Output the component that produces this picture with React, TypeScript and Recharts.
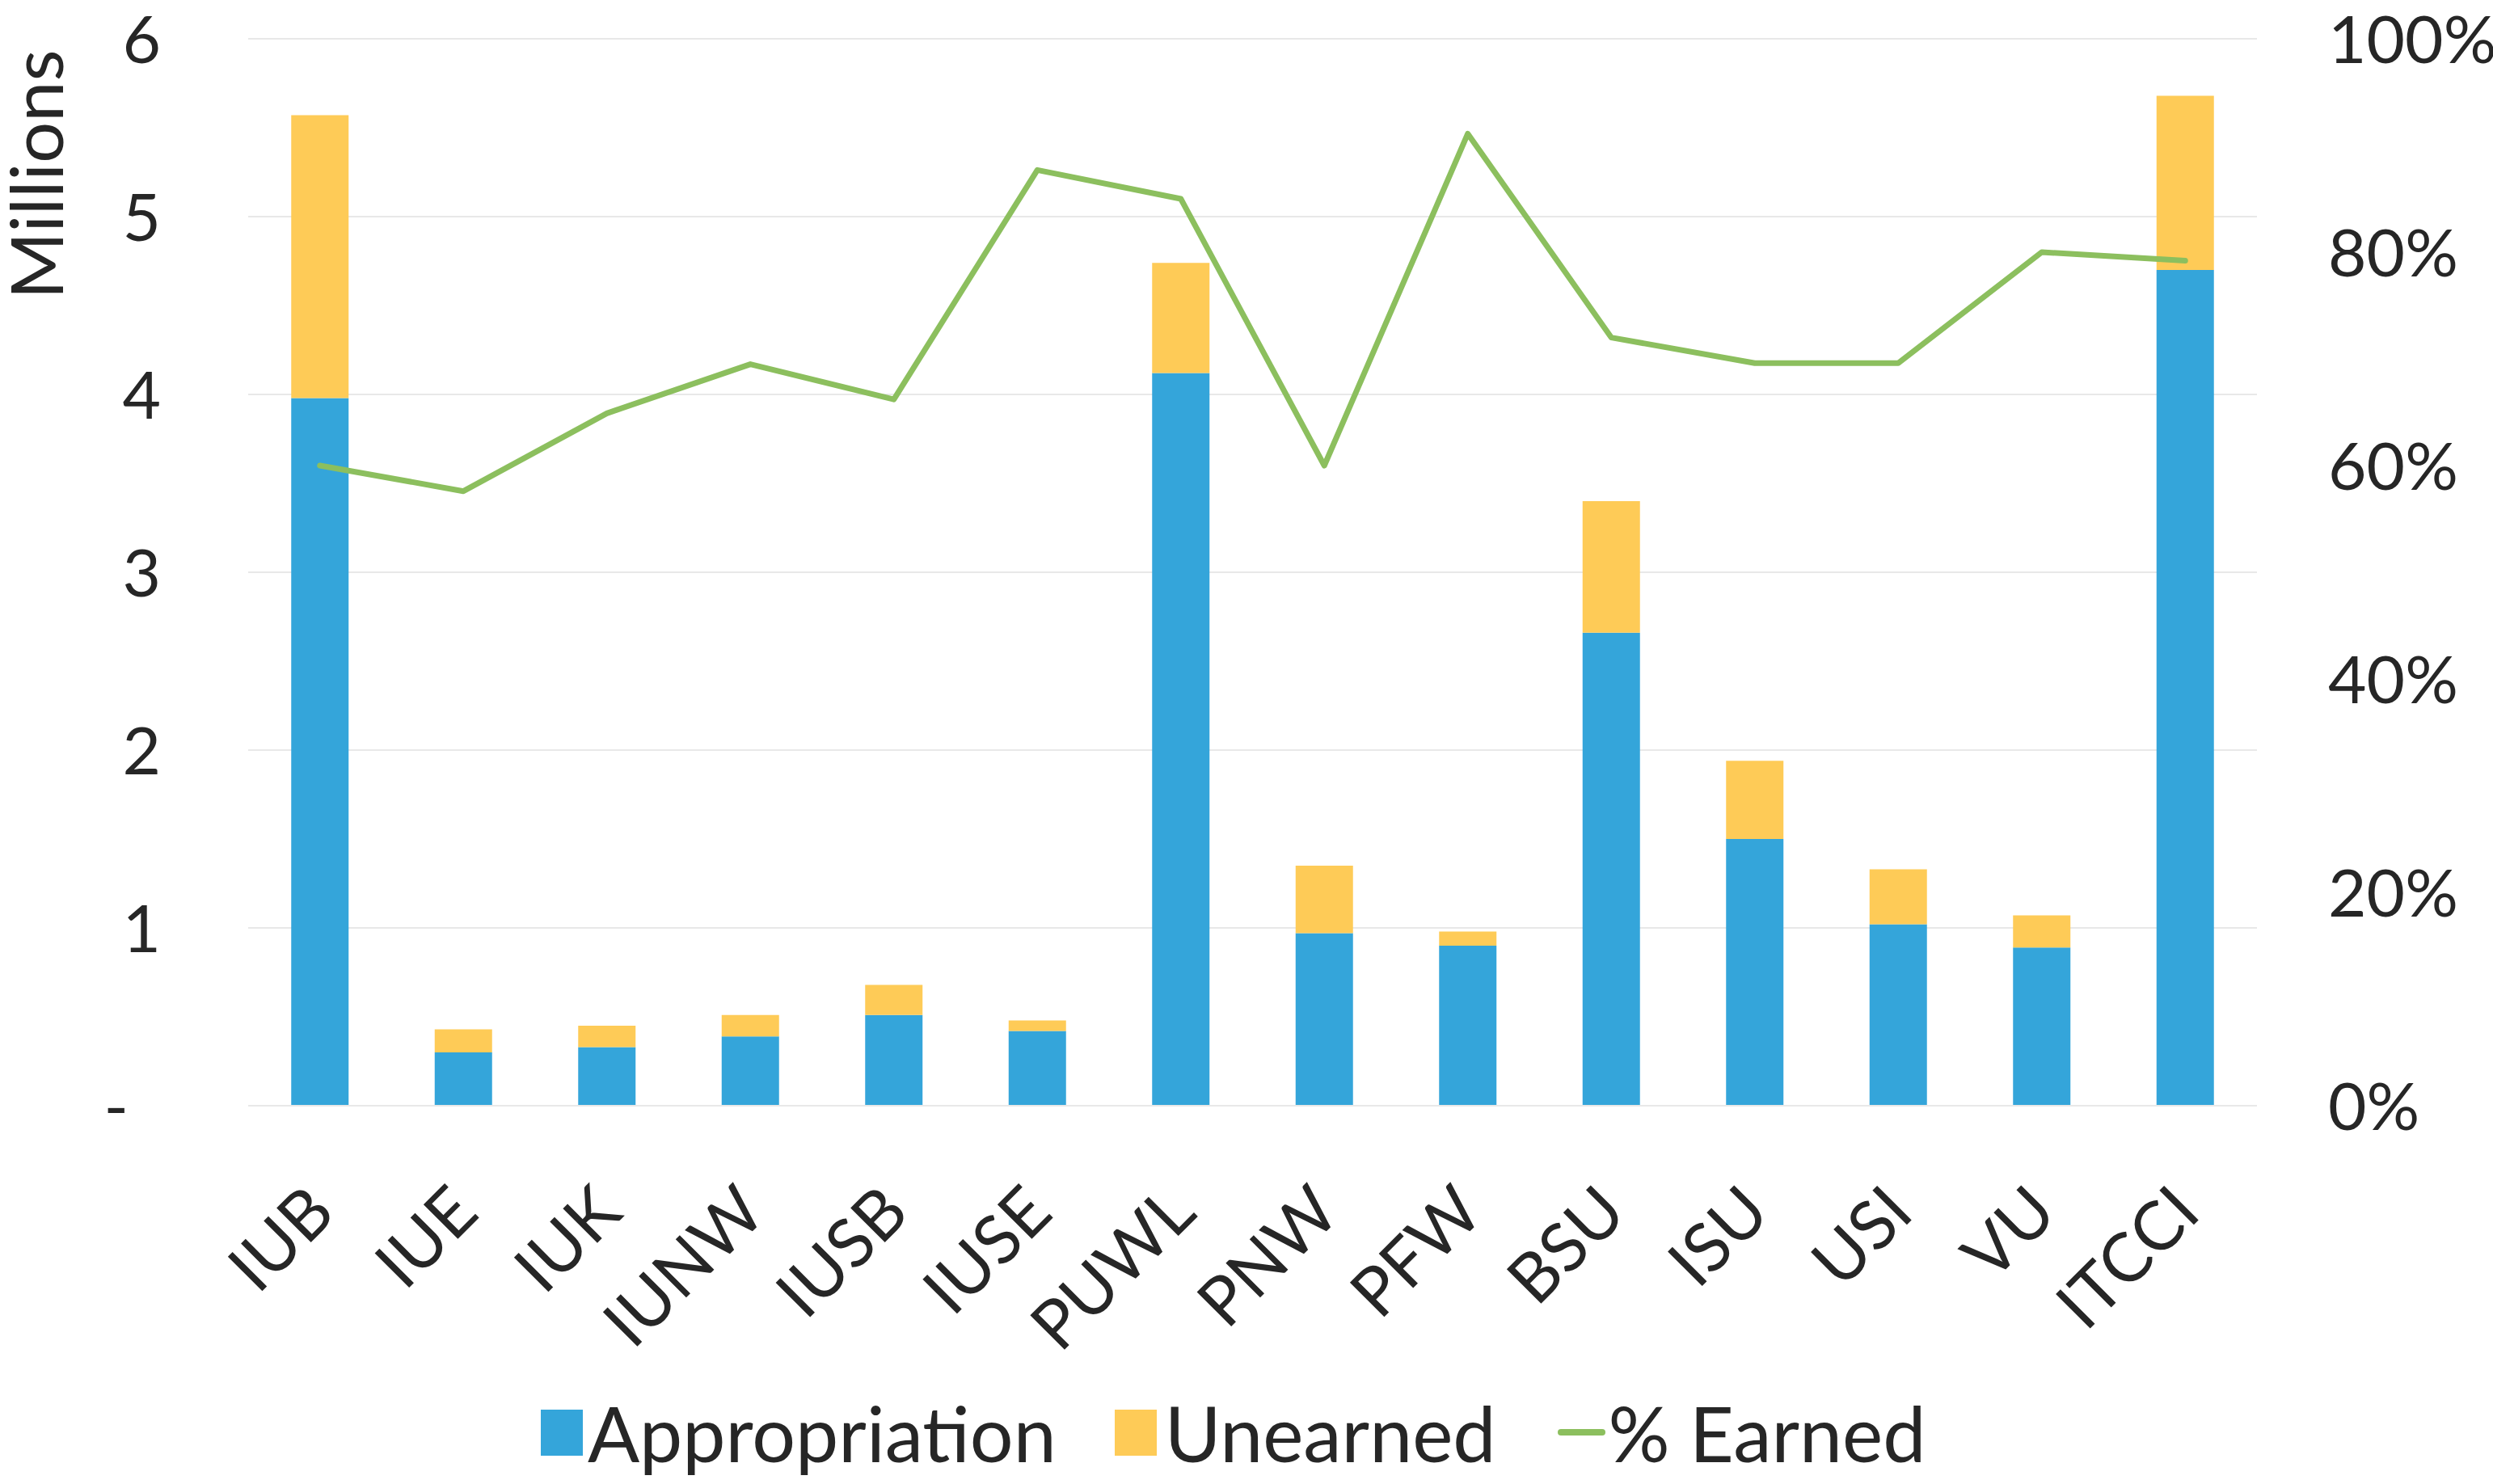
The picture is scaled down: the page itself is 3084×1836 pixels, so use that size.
import React from 'react'
import { ComposedChart, Bar, Line, XAxis, YAxis, CartesianGrid, Legend, Label } from 'recharts'

const categories = ['IUB', 'IUE', 'IUK', 'IUNW', 'IUSB', 'IUSE', 'PUWL', 'PNW', 'PFW', 'BSU', 'ISU', 'USI', 'VU', 'ITCCI']
const appropriation = [3.98, 0.30, 0.33, 0.39, 0.51, 0.42, 4.12, 0.97, 0.90, 2.66, 1.50, 1.02, 0.89, 4.70]
const unearned = [1.59, 0.13, 0.12, 0.12, 0.17, 0.06, 0.62, 0.38, 0.08, 0.74, 0.44, 0.31, 0.18, 0.98]
const pctEarned = [60.0, 57.6, 64.9, 69.5, 66.2, 87.7, 85.0, 60.0, 91.1, 72.0, 69.6, 69.6, 80.0, 79.2]
const leftTicks = [0, 1, 2, 3, 4, 5, 6]
const rightTicks = [0, 20, 40, 60, 80, 100]

const BLUE = '#34A5DA'
const YELLOW = '#FECB57'
const GREEN = '#8CBF5E'
const TEXT = '#262626'
const FONT = 'Lato, "Open Sans", sans-serif'

const data = categories.map((name, i) => ({
  name,
  appropriation: appropriation[i],
  unearned: unearned[i],
  earned: pctEarned[i],
}))

const LeftTick = (props: any) => {
  const { x, y, payload } = props
  const zero = payload.value === 0
  return (
    <text x={zero ? x - 40 : x} y={y} dy="0.36em" textAnchor="end" fill={TEXT} fontSize={82} fontFamily={FONT}>
      {zero ? '-' : payload.value}
    </text>
  )
}

const RightTick = (props: any) => {
  const { x, y, payload } = props
  return (
    <text x={x} y={y} dy="0.36em" textAnchor="start" fill={TEXT} fontSize={82} fontFamily={FONT}>
      {payload.value}%
    </text>
  )
}

const CatTick = (props: any) => {
  const { x, y, payload } = props
  return (
    <text transform={`translate(${x + 22},${y + 128}) rotate(-45)`} textAnchor="end" fill={TEXT} fontSize={84} fontFamily={FONT}>
      {payload.value}
    </text>
  )
}

const LegendBox = () => (
  <div style={{ height: 128, display: 'flex', alignItems: 'center', paddingLeft: 669, fontFamily: FONT, fontSize: 95, color: TEXT, lineHeight: 1 }}>
    <span style={{ width: 52, height: 57, background: BLUE, display: 'inline-block', marginRight: 6 }} />
    <span style={{ marginRight: 72 }}>Appropriation</span>
    <span style={{ width: 52, height: 57, background: YELLOW, display: 'inline-block', marginRight: 10 }} />
    <span style={{ marginRight: 76 }}>Unearned</span>
    <span style={{ width: 59, height: 8, background: GREEN, display: 'inline-block', borderRadius: 4, marginRight: 4 }} />
    <span>% Earned</span>
  </div>
)

export default function App() {
  return (
    <div style={{ position: 'absolute', left: 0, top: 0, width: 3084, height: 1836, background: '#fff' }}>
      <ComposedChart width={3084} height={1836} data={data} margin={{ top: 48, right: 0, bottom: 0, left: 0 }} barCategoryGap="30%">
        <CartesianGrid vertical={false} stroke="#E8E8E8" strokeWidth={2} yAxisId="left" />
        <XAxis dataKey="name" interval={0} height={340} tickLine={false} axisLine={{ stroke: '#E8E8E8', strokeWidth: 2 }} tick={<CatTick />} />
        <YAxis yAxisId="left" domain={[0, 6]} ticks={leftTicks} width={307} tickSize={0} tickMargin={108} axisLine={false} tickLine={false} tick={<LeftTick />}>
          <Label content={() => (
            <text transform="translate(78,216) rotate(-90)" textAnchor="middle" fill={TEXT} fontSize={90} fontFamily={FONT}>Millions</text>
          )} />
        </YAxis>
        <YAxis yAxisId="right" orientation="right" domain={[0, 100]} ticks={rightTicks} width={292} tickSize={0} tickMargin={88} axisLine={false} tickLine={false} tick={<RightTick />} />
        <Bar yAxisId="left" dataKey="appropriation" name="Appropriation" stackId="a" fill={BLUE} isAnimationActive={false} />
        <Bar yAxisId="left" dataKey="unearned" name="Unearned" stackId="a" fill={YELLOW} isAnimationActive={false} />
        <Line yAxisId="right" dataKey="earned" name="% Earned" type="linear" stroke={GREEN} strokeWidth={7} dot={false} strokeLinejoin="round" strokeLinecap="round" isAnimationActive={false} />
        <Legend verticalAlign="bottom" content={<LegendBox />} />
      </ComposedChart>
    </div>
  )
}
